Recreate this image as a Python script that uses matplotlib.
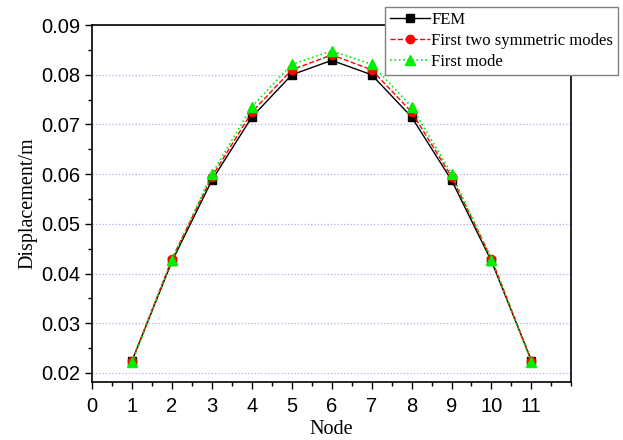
import matplotlib.pyplot as plt
from matplotlib.ticker import MultipleLocator

nodes = [1, 2, 3, 4, 5, 6, 7, 8, 9, 10, 11]
fem = [0.0225, 0.0425, 0.0588, 0.0715, 0.0800, 0.0829, 0.0800, 0.0715, 0.0588, 0.0425, 0.0225]
two_modes = [0.0225, 0.0430, 0.0595, 0.0725, 0.0810, 0.0840, 0.0810, 0.0725, 0.0595, 0.0430, 0.0225]
first_mode = [0.0222, 0.0428, 0.0601, 0.0736, 0.0821, 0.0848, 0.0821, 0.0736, 0.0601, 0.0428, 0.0222]

fig = plt.figure(figsize=(6.23, 4.4), dpi=100)
ax = fig.add_axes([0.148, 0.132, 0.769, 0.811])

ax.plot(nodes, fem, color="black", lw=1, marker="s", ms=6, label="FEM")
ax.plot(nodes, two_modes, color="red", lw=1, ls="--", marker="o", ms=6,
        label="First two symmetric modes")
ax.plot(nodes, first_mode, color="#00ee00", lw=1.2, ls=":", marker="^", ms=7,
        label="First mode")

ax.set_xlim(0, 12)
ax.set_ylim(0.0182, 0.09)
ax.set_xticks(range(0, 12))
ax.xaxis.set_minor_locator(MultipleLocator(0.5))
ax.set_yticks([0.02, 0.03, 0.04, 0.05, 0.06, 0.07, 0.08, 0.09])
ax.yaxis.set_minor_locator(MultipleLocator(0.005))
ax.yaxis.grid(True, ls=":", color="#b0b0e8", lw=0.9)
ax.set_axisbelow(True)

for lab in ax.get_xticklabels() + ax.get_yticklabels():
    lab.set_fontfamily("Liberation Sans")
    lab.set_fontsize(14.5)
ax.tick_params(which="major", direction="out", length=5, width=1)
ax.tick_params(which="minor", direction="out", length=3, width=1)
ax.tick_params(axis="x", which="major", pad=6)
for s in ax.spines.values():
    s.set_linewidth(1.2)

ax.set_xlabel("Node", family="Liberation Serif", fontsize=14.5, labelpad=3)
ax.set_ylabel("Displacement/m", family="Liberation Serif", fontsize=14.5, labelpad=3)

leg = ax.legend(loc="upper right", bbox_to_anchor=(618 / 623, 1 - 7 / 440),
                bbox_transform=fig.transFigure, borderaxespad=0,
                prop={"family": "Liberation Serif", "size": 12},
                handlelength=2.4, handletextpad=0.05, borderpad=0.3, labelspacing=0.3,
                fancybox=False, framealpha=1, edgecolor="#808080")
leg.get_frame().set_linewidth(1)

fig.savefig("out.png")
